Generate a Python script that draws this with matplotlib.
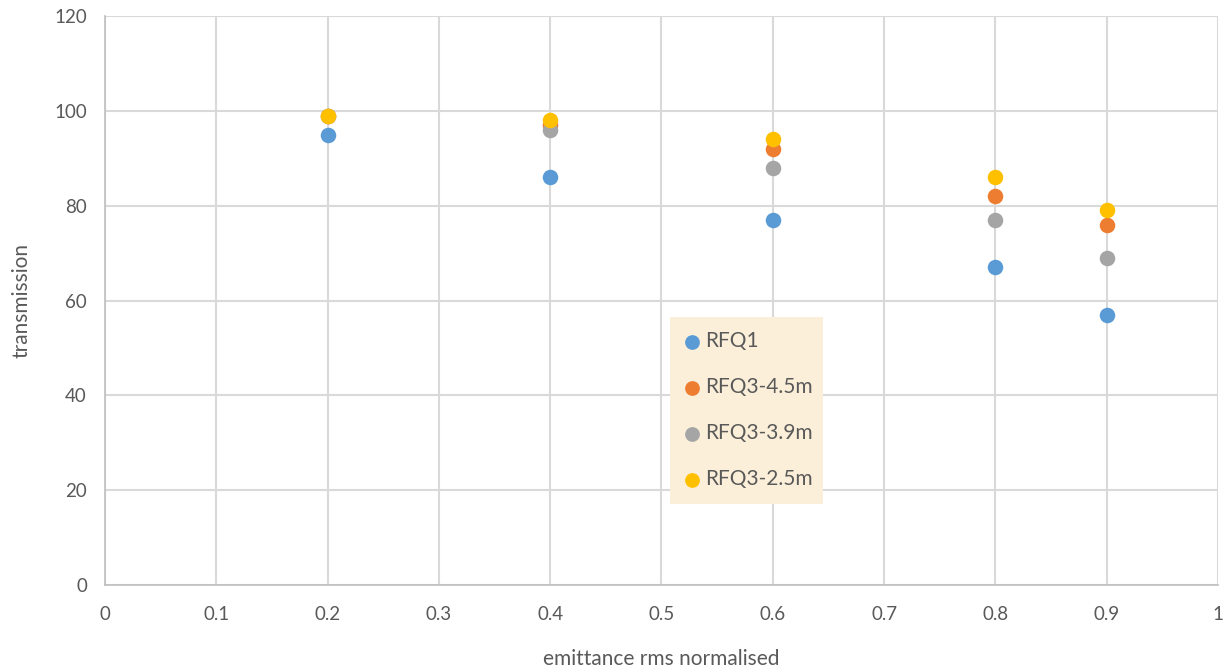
import matplotlib
matplotlib.use("Agg")
import matplotlib.pyplot as plt

plt.rcParams['font.family'] = ['Lato', 'DejaVu Sans']

emittance = [0.2, 0.4, 0.6, 0.8, 0.9]
series_names = ["RFQ1", "RFQ3-4.5m", "RFQ3-3.9m", "RFQ3-2.5m"]
rfq1 = [95, 86, 77, 67, 57]
rfq3_45 = [99, 97, 92, 82, 76]
rfq3_39 = [99, 96, 88, 77, 69]
rfq3_25 = [99, 98, 94, 86, 79]
colors = ["#5b9bd5", "#ed7d31", "#a5a5a5", "#ffc000"]

x_ticks = [0, 0.1, 0.2, 0.3, 0.4, 0.5, 0.6, 0.7, 0.8, 0.9, 1]
x_tick_labels = ["0", "0.1", "0.2", "0.3", "0.4", "0.5", "0.6", "0.7", "0.8", "0.9", "1"]
y_ticks = [0, 20, 40, 60, 80, 100, 120]

fig = plt.figure(figsize=(12.26, 6.70), dpi=100)
ax = fig.add_axes([0.0856, 0.1269, 0.9079, 0.8491])

for name, vals, c in zip(series_names, [rfq1, rfq3_45, rfq3_39, rfq3_25], colors):
    ax.scatter(emittance, vals, s=125, color=c, label=name, zorder=3, linewidths=0)

ax.set_xlim(0, 1)
ax.set_ylim(0, 120)
ax.set_xticks(x_ticks)
ax.set_xticklabels(x_tick_labels)
ax.set_yticks(y_ticks)
ax.grid(True, color="#d9d9d9", linewidth=1.5, zorder=0)
ax.set_axisbelow(True)
for side in ["top", "right"]:
    ax.spines[side].set_visible(False)
for side in ["left", "bottom"]:
    ax.spines[side].set_color("#bfbfbf")
    ax.spines[side].set_linewidth(1.2)
ax.tick_params(axis="both", length=0, labelsize=13.5, labelcolor="#595959")
ax.tick_params(axis="x", pad=15)
ax.tick_params(axis="y", pad=13)

ax.set_xlabel("emittance rms normalised", fontsize=15, color="#595959", labelpad=19)
ax.set_ylabel("transmission", fontsize=15, color="#595959", labelpad=16)

leg = ax.legend(loc="lower left", bbox_to_anchor=(0.508, 0.143, 0.1375, 0.317),
                mode="expand", frameon=True, fancybox=False, fontsize=15,
                labelspacing=1.25, handletextpad=0.28, borderpad=0.68,
                handlelength=0.72, markerscale=0.95, borderaxespad=0)
leg.get_frame().set_facecolor("#fcefd9")
leg.get_frame().set_edgecolor("none")
leg.get_frame().set_alpha(1)
for t in leg.get_texts():
    t.set_color("#595959")

fig.savefig("out.png", dpi=100, facecolor="white")
